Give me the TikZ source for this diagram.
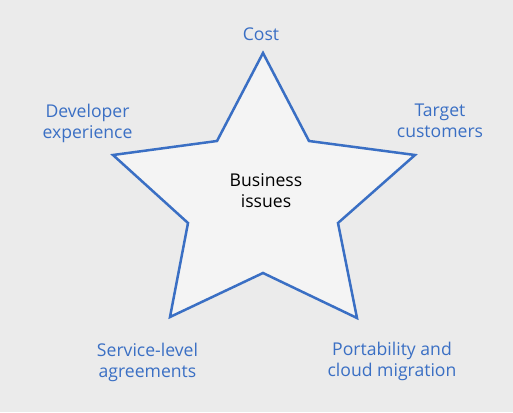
\documentclass[tikz,border=0pt]{standalone}
\usepackage{fontspec}
\setmainfont{Open Sans}
\definecolor{issueblue}{HTML}{3A6FC4}
\definecolor{backgray}{HTML}{EBEBEB}
\definecolor{stargray}{HTML}{F4F4F4}
\begin{document}
\begin{tikzpicture}[x=1pt,y=-1pt,
        issue/.style = {align=center,
            text=issueblue,
            font=\fontsize{17.6}{21}\selectfont
            },
        core/.style = {align=center,
            text=black,
            font=\fontsize{17.6}{21}\selectfont
            }]
    
    % Background
    \fill[backgray] (0,0) rectangle (513,412);
    
    % Star
    \draw[issueblue,line width=2.5pt,fill=stargray]
        (263,53) -- (309,141) -- (415,155) -- (338,223) -- (357,318)
        -- (263,273) -- (170,317) -- (188,223) -- (113,155) -- (217,141)
        -- cycle;
    
    % Centre
    \node[core] (business) at (266,191) {Business\\issues};
    
    % Issues
    \node[issue,anchor=base] (cost) at (261,41) {Cost};
    \node[issue] (developer) at (87.5,123) {Developer\\experience};
    \node[issue] (target) at (440,121) {Target\\customers};
    \node[issue] (service) at (147.5,362) {Service-level\\agreements};
    \node[issue] (portability) at (392,361) {Portability and\\cloud migration};
    
\end{tikzpicture}
\end{document}
